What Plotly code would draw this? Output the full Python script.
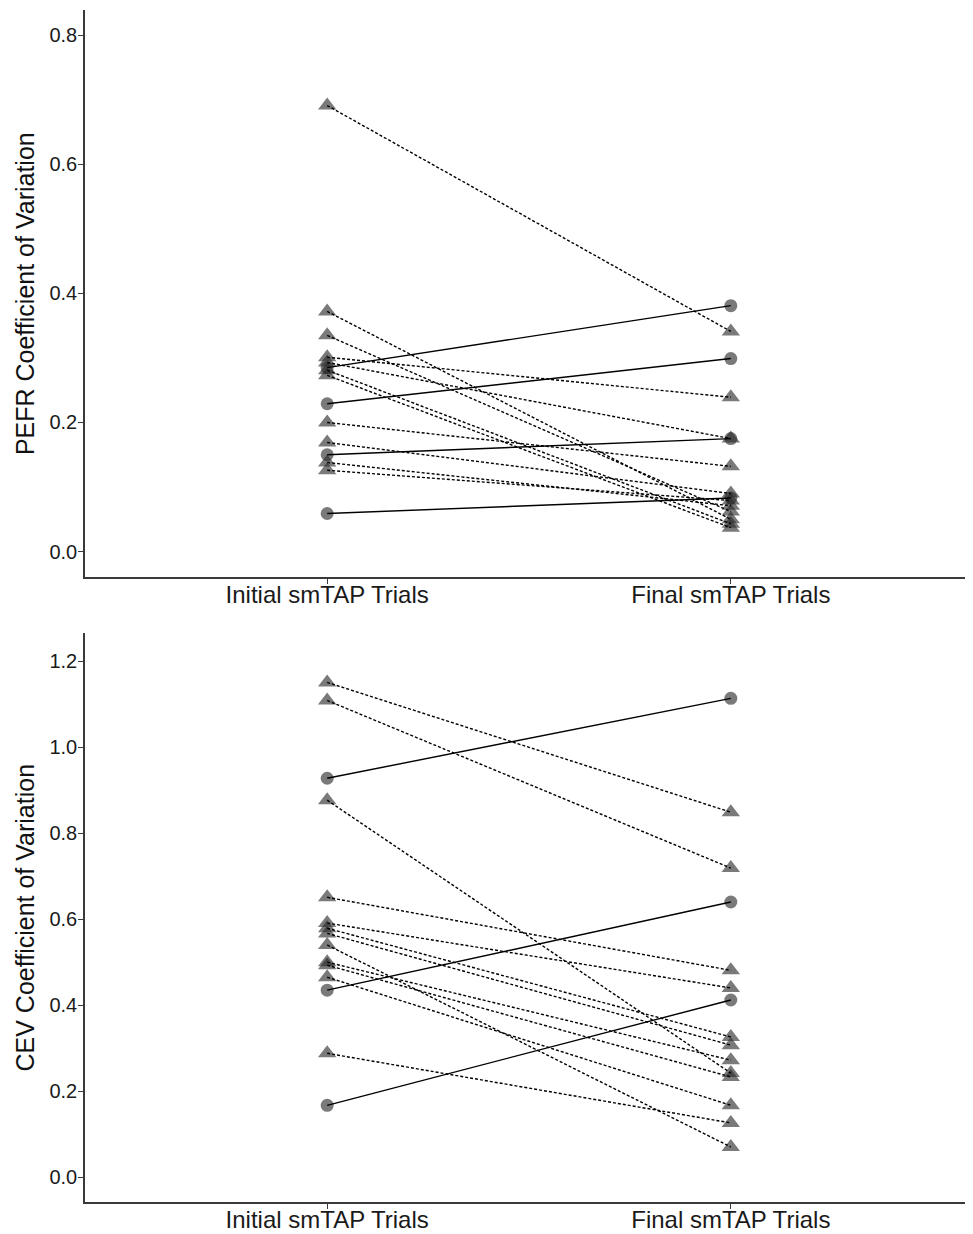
import plotly.graph_objects as go
from plotly.subplots import make_subplots

categories = ["Initial smTAP Trials", "Final smTAP Trials"]

# PEFR panel: circles (solid lines) and triangles (dashed lines)
pefr_circle_initial = [0.285, 0.229, 0.150, 0.059]
pefr_circle_final = [0.381, 0.299, 0.175, 0.083]
pefr_tri_initial = [0.691, 0.372, 0.335, 0.301, 0.293, 0.281, 0.273, 0.200, 0.169, 0.138, 0.126]
pefr_tri_final = [0.341, 0.050, 0.062, 0.239, 0.175, 0.043, 0.037, 0.132, 0.090, 0.071, 0.079]

# CEV panel
cev_circle_initial = [0.928, 0.435, 0.167]
cev_circle_final = [1.114, 0.640, 0.412]
cev_tri_initial = [1.151, 1.109, 0.877, 0.651, 0.591, 0.579, 0.567, 0.540, 0.500, 0.493, 0.465, 0.288]
cev_tri_final = [0.849, 0.719, 0.242, 0.481, 0.440, 0.326, 0.307, 0.070, 0.272, 0.233, 0.167, 0.126]

y_ticks_top = [0.0, 0.2, 0.4, 0.6, 0.8]
y_ticks_bottom = [0.0, 0.2, 0.4, 0.6, 0.8, 1.0, 1.2]

MARKER_COLOR = "rgba(40,40,40,0.62)"
FONT = "Liberation Sans, Arial, sans-serif"

fig = make_subplots(rows=2, cols=1, vertical_spacing=0.05)


def add_panel(row, ci, cf, ti, tf):
    # markers
    for init, fin, sym, size in ((ci, cf, "circle", 13), (ti, tf, "triangle-up", 16)):
        xs = [0] * len(init) + [1] * len(fin)
        ys = list(init) + list(fin)
        fig.add_trace(go.Scatter(x=xs, y=ys, mode="markers",
                                 marker=dict(symbol=sym, size=size, color=MARKER_COLOR,
                                             line=dict(width=0)),
                                 showlegend=False), row=row, col=1)
    # lines
    for init, fin, dash in ((ci, cf, "solid"), (ti, tf, "3px,2px")):
        xs, ys = [], []
        for a, b in zip(init, fin):
            xs += [0, 1, None]
            ys += [a, b, None]
        fig.add_trace(go.Scatter(x=xs, y=ys, mode="lines",
                                 line=dict(color="black", width=1.4, dash=dash),
                                 showlegend=False, hoverinfo="skip"), row=row, col=1)


add_panel(1, pefr_circle_initial, pefr_circle_final, pefr_tri_initial, pefr_tri_final)
add_panel(2, cev_circle_initial, cev_circle_final, cev_tri_initial, cev_tri_final)

axis_common = dict(showline=True, linecolor="#3a3a3a", linewidth=1.5, ticks="outside",
                   ticklen=5, tickwidth=1.2, tickcolor="#3a3a3a", showgrid=False,
                   zeroline=False, mirror=False, automargin=False)

for r in (1, 2):
    fig.update_xaxes(range=[-0.6, 1.6], tickvals=[0, 1], ticktext=categories,
                     tickfont=dict(size=24, color="#1a1a1a", family=FONT),
                     ticklabelstandoff=-10, **axis_common, row=r, col=1)

fig.update_yaxes(range=[-0.040, 0.839], tickvals=y_ticks_top,
                 ticktext=[f"{v:.1f}" for v in y_ticks_top],
                 tickfont=dict(size=20, color="#1a1a1a", family=FONT),
                 ticklabelstandoff=-3,
                 title=dict(text="PEFR Coefficient of Variation",
                            font=dict(size=25, color="#111", family=FONT), standoff=8),
                 domain=[0.524, 1.0], **axis_common, row=1, col=1)
fig.update_yaxes(range=[-0.058, 1.265], tickvals=y_ticks_bottom,
                 ticktext=[f"{v:.1f}" for v in y_ticks_bottom],
                 tickfont=dict(size=20, color="#1a1a1a", family=FONT),
                 ticklabelstandoff=-3,
                 title=dict(text="CEV Coefficient of Variation",
                            font=dict(size=25, color="#111", family=FONT), standoff=8),
                 domain=[0.0, 0.477], **axis_common, row=2, col=1)

fig.update_layout(width=965, height=1226, margin=dict(l=77, r=0, t=2, b=32),
                  plot_bgcolor="white", paper_bgcolor="white",
                  font=dict(family=FONT))

fig.write_html("out.html")
